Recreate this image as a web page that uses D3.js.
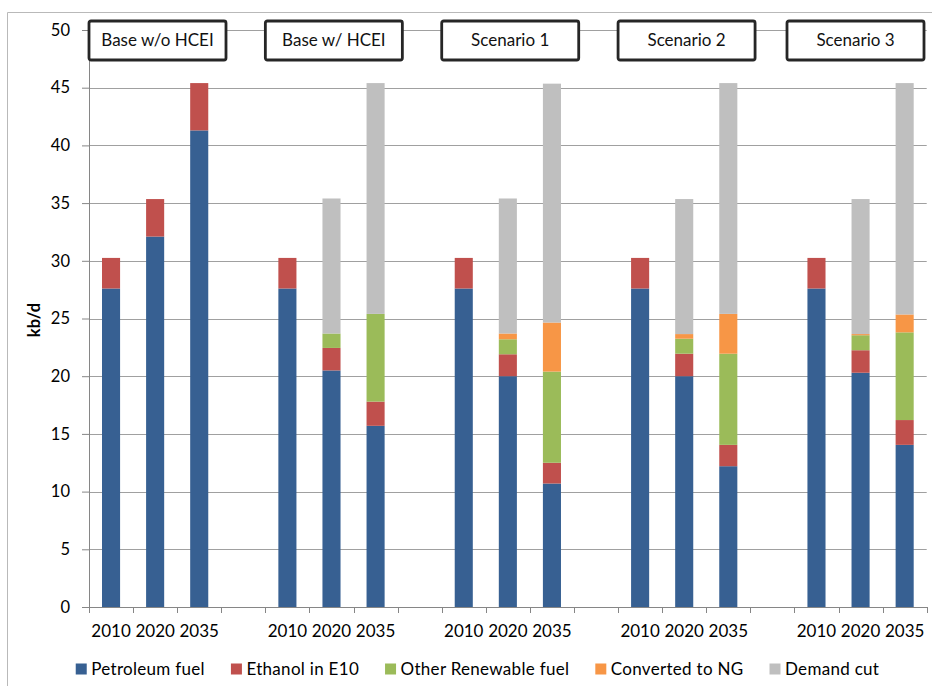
<!DOCTYPE html>
<html>
<head>
<meta charset="utf-8">
<script src="https://cdn.jsdelivr.net/npm/d3@7"></script>
<style>
  html, body { margin: 0; padding: 0; background: #fff; }
  svg { display: block; font-family: Lato, "Open Sans", sans-serif; }
</style>
</head>
<body>
<svg id="chart" width="932" height="686"></svg>
<script>
// ---- data (kb/d) ----
const scenarios = ["Base w/o HCEI", "Base w/ HCEI", "Scenario 1", "Scenario 2", "Scenario 3"];
const years = ["2010", "2020", "2035"];
const seriesNames = ["Petroleum fuel", "Ethanol in E10", "Other Renewable fuel", "Converted to NG", "Demand cut"];
const seriesColors = ["#376092", "#C0504D", "#9BBB59", "#F79646", "#BFBFBF"];

// one value per scenario/year, in scenario order, 2010-2020-2035 within each
const petroleum = [27.6, 32.1, 41.3,  27.6, 20.5, 15.7,  27.6, 20.0, 10.7,  27.6, 20.0, 12.2,  27.6, 20.3, 14.05];
const ethanol   = [2.65, 3.25, 4.1,   2.65, 1.95, 2.1,   2.65, 1.9,  1.8,   2.65, 1.95, 1.85,  2.65, 1.95, 2.15];
const otherRenew= [0,    0,    0,     0,    1.25, 7.6,   0,    1.3,  7.9,   0,    1.3,  7.9,   0,    1.3,  7.6];
const convertedNG=[0,    0,    0,     0,    0,    0,     0,    0.5,  4.25,  0,    0.4,  3.45,  0,    0.1,  1.55];
const demandCut = [0,    0,    0,     0,    11.7, 20.0,  0,    11.7, 20.7,  0,    11.7, 20.0,  0,    11.7, 20.05];
const seriesValues = [petroleum, ethanol, otherRenew, convertedNG, demandCut];

const yTicks = [0, 5, 10, 15, 20, 25, 30, 35, 40, 45, 50];
const yTitle = "kb/d";

// ---- layout ----
const plot = { left: 89, right: 926.7, top: 30, bottom: 607 };
const svg = d3.select("#chart");

// chart area frame
svg.append("path")
  .attr("d", "M7.5,686 V12.5 H932")
  .attr("fill", "none")
  .attr("stroke", "#b9b9b9")
  .attr("stroke-width", 1);

// category slots: three years per scenario, an empty slot between scenarios
const slots = [];
const rows = [];
scenarios.forEach((s, si) => {
  years.forEach((yr, yi) => {
    const key = s + "|" + yr;
    slots.push({ key, year: yr, scenario: s });
    const row = { key };
    seriesNames.forEach((n, k) => { row[n] = seriesValues[k][si * years.length + yi]; });
    rows.push(row);
  });
  if (si < scenarios.length - 1) slots.push({ key: "gap" + si, year: "" });
});

const x = d3.scaleBand()
  .domain(slots.map(d => d.key))
  .range([plot.left, plot.right])
  .padding(0);
const barW = x.bandwidth() * 0.41;

const y = d3.scaleLinear().domain([0, 50]).range([plot.bottom, plot.top]);
const color = d3.scaleOrdinal().domain(seriesNames).range(seriesColors);

// horizontal gridlines
svg.append("g").selectAll("line")
  .data(yTicks.filter(t => t > 0))
  .join("line")
  .attr("x1", plot.left).attr("x2", plot.right)
  .attr("y1", d => Math.round(y(d)) + 0.5).attr("y2", d => Math.round(y(d)) + 0.5)
  .attr("stroke", "#a0a0a0")
  .attr("stroke-width", 1.2);

// stacked bars
const stacked = d3.stack().keys(seriesNames)(rows);
svg.append("g").selectAll("g")
  .data(stacked)
  .join("g")
  .attr("fill", d => color(d.key))
  .selectAll("rect")
  .data(d => d.filter(p => p[1] - p[0] > 0))
  .join("rect")
  .attr("x", d => x(d.data.key) + (x.bandwidth() - barW) / 2)
  .attr("width", barW)
  .attr("y", d => y(d[1]))
  .attr("height", d => y(d[0]) - y(d[1]));

// y axis
const yAxis = svg.append("g")
  .attr("transform", `translate(${plot.left},0)`)
  .call(d3.axisLeft(y).tickValues(yTicks).tickSize(7).tickSizeOuter(0).tickPadding(12));
yAxis.select(".domain").attr("stroke", "#868686");
yAxis.selectAll(".tick line").attr("stroke", "#868686");
yAxis.selectAll(".tick text")
  .attr("fill", "#000")
  .style("font-size", "16.5px")
  .style("font-family", "Lato, sans-serif");

// x axis: labels at slot centres, tick marks on slot boundaries
const xAxis = svg.append("g")
  .attr("transform", `translate(0,${plot.bottom})`)
  .call(d3.axisBottom(x).tickSize(0).tickSizeOuter(0).tickPadding(18)
    .tickFormat(k => (slots.find(s => s.key === k) || {}).year || ""));
xAxis.select(".domain").attr("stroke", "#868686");
xAxis.selectAll(".tick text")
  .attr("fill", "#000")
  .style("font-size", "17px")
  .style("font-family", "Lato, sans-serif");
xAxis.append("g").selectAll("line")
  .data(d3.range(slots.length + 1))
  .join("line")
  .attr("x1", i => Math.round(plot.left + i * x.step()) + 0.5)
  .attr("x2", i => Math.round(plot.left + i * x.step()) + 0.5)
  .attr("y1", 0).attr("y2", 6)
  .attr("stroke", "#868686");

// y title
svg.append("text")
  .attr("transform", "translate(40,320) rotate(-90)")
  .attr("text-anchor", "middle")
  .style("font-size", "16.5px")
  .style("font-weight", "bold")
  .attr("fill", "#000")
  .text(yTitle);

// scenario name boxes along the top
const boxW = 137, boxH = 39, boxTop = 21;
const boxes = svg.append("g").selectAll("g")
  .data(scenarios)
  .join("g")
  .attr("transform", s => {
    const bx = Math.min(x(s + "|" + years[0]), plot.right - 2.7 - boxW);
    return `translate(${bx},${boxTop})`;
  });
boxes.append("rect")
  .attr("width", boxW).attr("height", boxH)
  .attr("rx", 2)
  .attr("fill", "#fff")
  .attr("stroke", "#262626")
  .attr("stroke-width", 2.8);
boxes.append("text")
  .attr("x", boxW / 2).attr("y", boxH / 2)
  .attr("dy", "0.35em")
  .attr("text-anchor", "middle")
  .style("font-size", "17px")
  .attr("fill", "#111")
  .text(d => d);

// legend
const legend = svg.append("g").attr("transform", "translate(0,669)");
const items = legend.selectAll("g").data(seriesNames).join("g");
items.append("rect")
  .attr("width", 11).attr("height", 11).attr("y", -5.5)
  .attr("fill", d => color(d));
items.append("text")
  .attr("x", 15.5).attr("dy", "0.35em")
  .style("font-size", "17px")
  .style("letter-spacing", "0.3px")
  .attr("fill", "#000")
  .text(d => d);
let cursor = 0;
const lefts = [];
items.each(function () {
  lefts.push(cursor);
  const w = d3.select(this).select("text").node().getComputedTextLength();
  cursor += 15.5 + w + 26;
});
const total = cursor - 26;
const start = 477.5 - total / 2;
items.attr("transform", (d, i) => `translate(${start + lefts[i]},0)`);
</script>
</body>
</html>
